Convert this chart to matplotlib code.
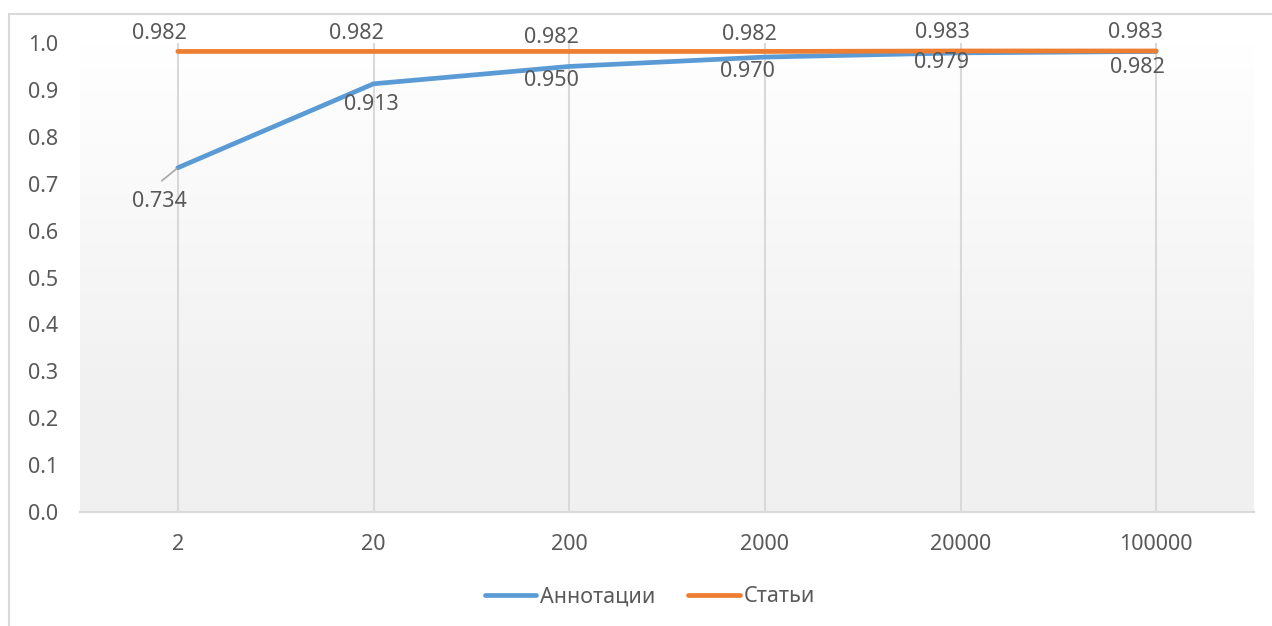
import matplotlib.pyplot as plt
import numpy as np
from matplotlib.patches import Rectangle

# data
categories = ['2', '20', '200', '2000', '20000', '100000']
annotations = [0.734, 0.913, 0.950, 0.970, 0.979, 0.982]
articles = [0.982, 0.982, 0.982, 0.982, 0.983, 0.983]
series_names = ['Аннотации', 'Статьи']

# label offsets in pixels (dx, dy) relative to each point
ann_offsets = [(-18, -34), (-2, -21), (-18, -14), (-17, -14), (-19, -10), (-19, -16)]
art_offsets = [(-18, 18), (-17, 18), (-18, 14), (-15, 17), (-18, 18), (-21, 18)]

blue = '#5b9bd5'
orange = '#ed7d31'
text_color = '#595959'
grid_color = '#d9d9d9'
fs = 15.5

plt.rcParams['font.family'] = ['Noto Sans', 'DejaVu Sans']

fig = plt.figure(figsize=(12.72, 6.26), dpi=100)
ax = fig.add_axes([80 / 1272, 1 - 512 / 626, (1254 - 80) / 1272, (512 - 43) / 626])

# outer chart border (right and bottom cropped in the reference)
fig.patches.append(Rectangle((9 / 1272, -0.1), 1.2, 1 - 14 / 626 + 0.1,
                             transform=fig.transFigure, fill=False,
                             edgecolor=grid_color, linewidth=1.5))

x = np.arange(len(categories))

# gradient fill of the plot area, white on top to light grey below
top = np.array([1.0, 1.0, 1.0])
bot = np.array([0.945, 0.945, 0.945])
img = np.empty((256, 1, 3))
for i in range(256):
    t = min(i / 255.0 / 0.75, 1.0)
    img[i, 0] = top + (bot - top) * t
ax.imshow(img, extent=[-0.5, 5.5, 0, 1.0], aspect='auto', origin='upper', zorder=0)

for xi in x:
    ax.axvline(xi, color=grid_color, linewidth=1.5, zorder=1)

ax.plot(x, annotations, color=blue, linewidth=3.4, solid_capstyle='round',
        label=series_names[0], zorder=3)
ax.plot(x, articles, color=orange, linewidth=3.4, solid_capstyle='round',
        label=series_names[1], zorder=4)

for xi, v, (dx, dy) in zip(x, annotations, ann_offsets):
    ax.annotate(f'{v:.3f}', (xi, v), xytext=(dx, dy), textcoords='offset pixels',
                ha='center', va='center', fontsize=fs, color=text_color, zorder=5)
for xi, v, (dx, dy) in zip(x, articles, art_offsets):
    ax.annotate(f'{v:.3f}', (xi, v), xytext=(dx, dy), textcoords='offset pixels',
                ha='center', va='center', fontsize=fs, color=text_color, zorder=5)

# leader line for the first label
ax.annotate('', xy=(x[0], annotations[0]), xytext=(-16, -13), textcoords='offset pixels',
            arrowprops=dict(arrowstyle='-', color='#a6a6a6', linewidth=1.2, shrinkA=0, shrinkB=1))

ax.set_xlim(-0.5, 5.5)
ax.set_ylim(0, 1.0)
ax.set_yticks(np.arange(0, 1.01, 0.1))
ax.set_yticklabels([f'{v:.1f}' for v in np.arange(0, 1.01, 0.1)])
ax.set_xticks(x)
ax.set_xticklabels(categories)
ax.tick_params(axis='both', length=0, labelsize=fs, labelcolor=text_color)
ax.tick_params(axis='x', pad=16)
ax.tick_params(axis='y', pad=16)

for side in ['top', 'right', 'left']:
    ax.spines[side].set_visible(False)
ax.spines['bottom'].set_color(grid_color)
ax.spines['bottom'].set_linewidth(1.5)

leg = fig.legend(loc='center', bbox_to_anchor=(650 / 1272, 1 - 597 / 626), ncol=2,
                 frameon=False, fontsize=fs, handlelength=2.4, handletextpad=0.2,
                 columnspacing=1.5)
for t in leg.get_texts():
    t.set_color(text_color)

fig.savefig('out.png', dpi=100)
